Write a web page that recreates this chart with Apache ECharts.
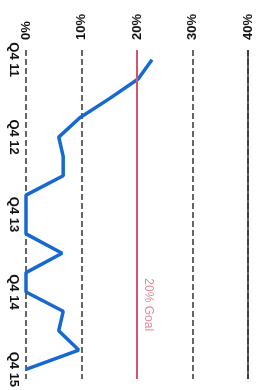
<!DOCTYPE html>
<html>
<head>
<meta charset="utf-8">
<script src="https://cdn.jsdelivr.net/npm/echarts@6/dist/echarts.min.js"></script>
<style>
  html, body { margin: 0; padding: 0; background: #fff; }
  #chart { width: 268px; height: 390px; }
</style>
</head>
<body>
<div id="chart"></div>
<script>
  // quarters, Q4 2011 .. Q4 2015 (chart is drawn turned on its side)
  var quarters = ['Q4 11', 'Q1 12', 'Q2 12', 'Q3 12', 'Q4 12', 'Q1 13', 'Q2 13', 'Q3 13', 'Q4 13',
                  'Q1 14', 'Q2 14', 'Q3 14', 'Q4 14', 'Q1 15', 'Q2 15', 'Q3 15', 'Q4 15']
  var rates = [22.7, 20.2, 15.1, 9.7, 5.9, 6.7, 6.7, 0, 0, 0, 6.5, 0, 0, 6.7, 5.9, 9.5, 0]
  var goal = 20
  var valueTicks = [0, 10, 20, 30, 40]

  var chart = echarts.init(document.getElementById('chart'))
  chart.setOption({
    animation: false,
    grid: { left: 26, right: 20, top: 50, height: 332 },
    xAxis: {
      type: 'value',
      position: 'top',
      min: valueTicks[0],
      max: valueTicks[valueTicks.length - 1],
      interval: 10,
      axisLine: { show: false },
      axisTick: { show: false },
      axisLabel: {
        rotate: -90,
        margin: 10,
        formatter: '{value}%',
        color: '#111',
        fontFamily: 'Liberation Sans',
        fontWeight: 'bold',
        fontSize: 13
      },
      splitLine: { lineStyle: { color: '#333', type: 'dashed', width: 1.5 } }
    },
    yAxis: {
      type: 'category',
      inverse: true,
      boundaryGap: true,
      data: quarters,
      axisLine: { show: false },
      axisTick: { show: false },
      axisLabel: {
        interval: 3,
        rotate: -90,
        margin: 6,
        color: '#111',
        fontFamily: 'Liberation Sans',
        fontWeight: 'bold',
        fontSize: 13
      }
    },
    series: [{
      type: 'line',
      data: rates.map(function (v, i) { return [v, i] }),
      symbol: 'none',
      lineStyle: { color: '#1769d2', width: 3.5 },
      markLine: {
        symbol: 'none',
        silent: true,
        data: [
          { xAxis: goal, lineStyle: { color: '#d9536a', width: 2, type: 'solid' },
            label: { show: true, position: 'insideEndTop', formatter: '20% Goal', color: '#e8899a',
              fontSize: 12, fontFamily: 'Liberation Sans', distance: [48, 5] } },
          { xAxis: 40, lineStyle: { color: '#333', width: 1.5, type: 'solid' }, label: { show: false } }
        ]
      }
    }]
  })
</script>
</body>
</html>
